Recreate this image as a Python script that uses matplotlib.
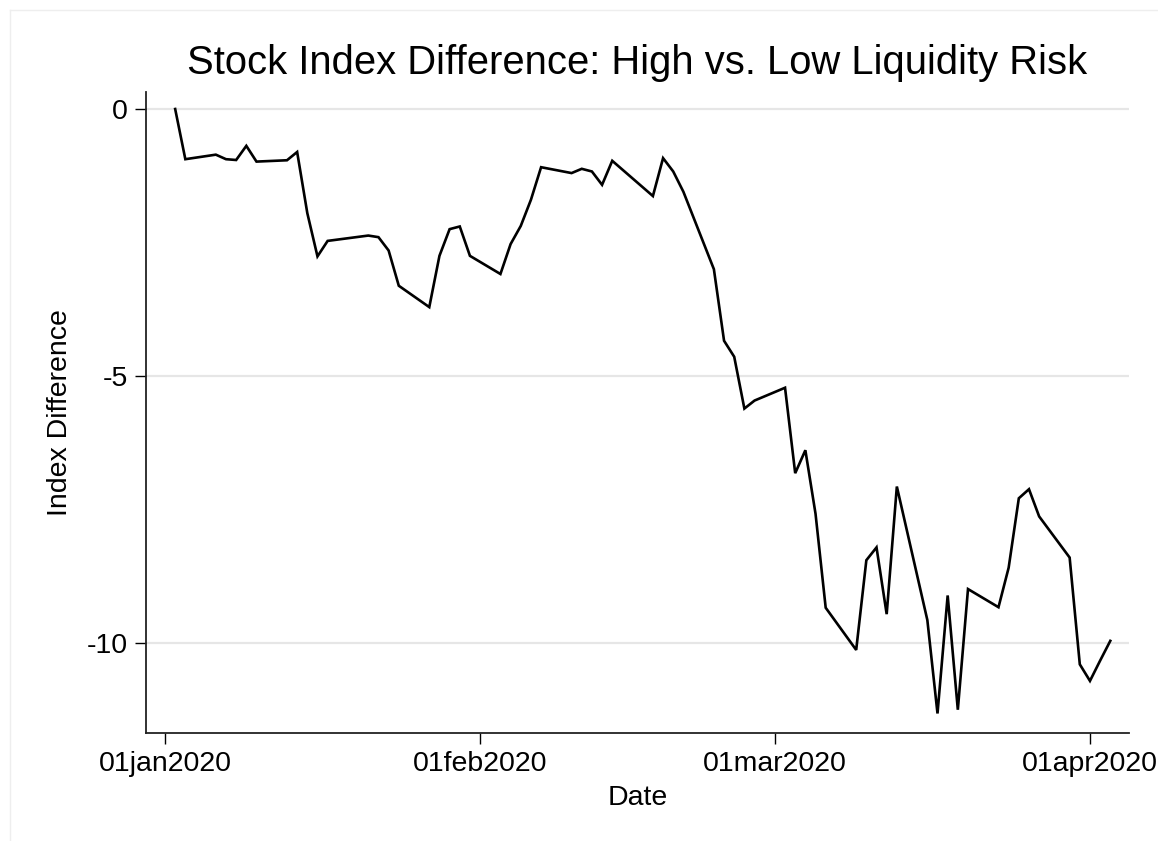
import matplotlib
matplotlib.use("Agg")
import matplotlib.pyplot as plt
import matplotlib.dates as mdates
from matplotlib.lines import Line2D
import numpy as np
import datetime as dt

plt.rcParams['font.family'] = ['Liberation Sans', 'DejaVu Sans']

# ---- data ----
dates = ["2020-01-02", "2020-01-03", "2020-01-06", "2020-01-07", "2020-01-08", "2020-01-09",
         "2020-01-10", "2020-01-13", "2020-01-14", "2020-01-15", "2020-01-16", "2020-01-17",
         "2020-01-21", "2020-01-22", "2020-01-23", "2020-01-24", "2020-01-27", "2020-01-28",
         "2020-01-29", "2020-01-30", "2020-01-31", "2020-02-03", "2020-02-04", "2020-02-05",
         "2020-02-06", "2020-02-07", "2020-02-10", "2020-02-11", "2020-02-12", "2020-02-13",
         "2020-02-14", "2020-02-18", "2020-02-19", "2020-02-20", "2020-02-21", "2020-02-24",
         "2020-02-25", "2020-02-26", "2020-02-27", "2020-02-28", "2020-03-02", "2020-03-03",
         "2020-03-04", "2020-03-05", "2020-03-06", "2020-03-09", "2020-03-10", "2020-03-11",
         "2020-03-12", "2020-03-13", "2020-03-16", "2020-03-17", "2020-03-18", "2020-03-19",
         "2020-03-20", "2020-03-23", "2020-03-24", "2020-03-25", "2020-03-26", "2020-03-27",
         "2020-03-30", "2020-03-31", "2020-04-01", "2020-04-02", "2020-04-03"]
index_diff = [0.0, -0.94, -0.855, -0.94, -0.955, -0.69,
              -0.985, -0.96, -0.805, -1.95, -2.76, -2.47,
              -2.37, -2.40, -2.65, -3.31, -3.71, -2.75,
              -2.25, -2.20, -2.75, -3.09, -2.53, -2.19,
              -1.70, -1.09, -1.20, -1.12, -1.17, -1.42,
              -0.97, -1.63, -0.92, -1.17, -1.55, -3.00,
              -4.34, -4.64, -5.61, -5.46, -5.22, -6.82,
              -6.39, -7.58, -9.34, -10.13, -8.45, -8.21,
              -9.46, -7.07, -9.57, -11.32, -9.11, -11.25,
              -8.99, -9.33, -8.59, -7.29, -7.12, -7.63,
              -8.40, -10.40, -10.71, -10.33, -9.96]
xtick_dates = ["2020-01-01", "2020-02-01", "2020-03-01", "2020-04-01"]
ytick_values = [0, -5, -10]

title = "Stock Index Difference: High vs. Low Liquidity Risk"
xlabel = "Date"
ylabel = "Index Difference"

# ---- plot ----
W, H = 1158, 841
fig = plt.figure(figsize=(W / 100, H / 100), dpi=100)
ax = fig.add_axes([146 / W, 1 - 732.7 / H, (1129 - 146) / W, (732.7 - 91.7) / H])

x = [dt.datetime.strptime(d, "%Y-%m-%d") for d in dates]
ax.plot(x, index_diff, color='black', linewidth=1.9, solid_joinstyle='miter', zorder=3)

xt = [dt.datetime.strptime(d, "%Y-%m-%d") for d in xtick_dates]
ax.set_xticks(xt)
ax.set_xticklabels([d.strftime("%d%b%Y").lower() for d in xt])
ax.set_yticks(ytick_values)
ax.set_yticklabels([str(v) for v in ytick_values])

x0 = mdates.date2num(xt[0])
x3 = mdates.date2num(xt[3])
ax.set_xlim(x0 - 1.87, x3 + 3.84)
ax.set_ylim(-11.68, 0.324)

ax.grid(axis='y', color='#e6e6e6', linewidth=1.6, zorder=0)
ax.grid(axis='x', visible=False)
for s in ['top', 'right']:
    ax.spines[s].set_visible(False)
for s in ['left', 'bottom']:
    ax.spines[s].set_linewidth(1.3)
    ax.spines[s].set_color('#222222')

ax.tick_params(axis='both', direction='out', length=8, width=1.0, colors='black',
               labelsize=20.5)
ax.tick_params(axis='y', pad=5)
ax.tick_params(axis='x', pad=5)

ax.set_title(title, fontsize=28.8, pad=13)
ax.set_xlabel(xlabel, fontsize=20.5, labelpad=6)
ax.set_ylabel(ylabel, fontsize=20.5, labelpad=10)

# faint outer frame (graph region)
fig.add_artist(Line2D([10 / W, 10 / W], [0, 1 - 10 / H], transform=fig.transFigure,
                      color='#eeeeee', linewidth=1))
fig.add_artist(Line2D([10 / W, 1], [1 - 10 / H, 1 - 10 / H], transform=fig.transFigure,
                      color='#eeeeee', linewidth=1))

fig.savefig("out.png", dpi=100)
